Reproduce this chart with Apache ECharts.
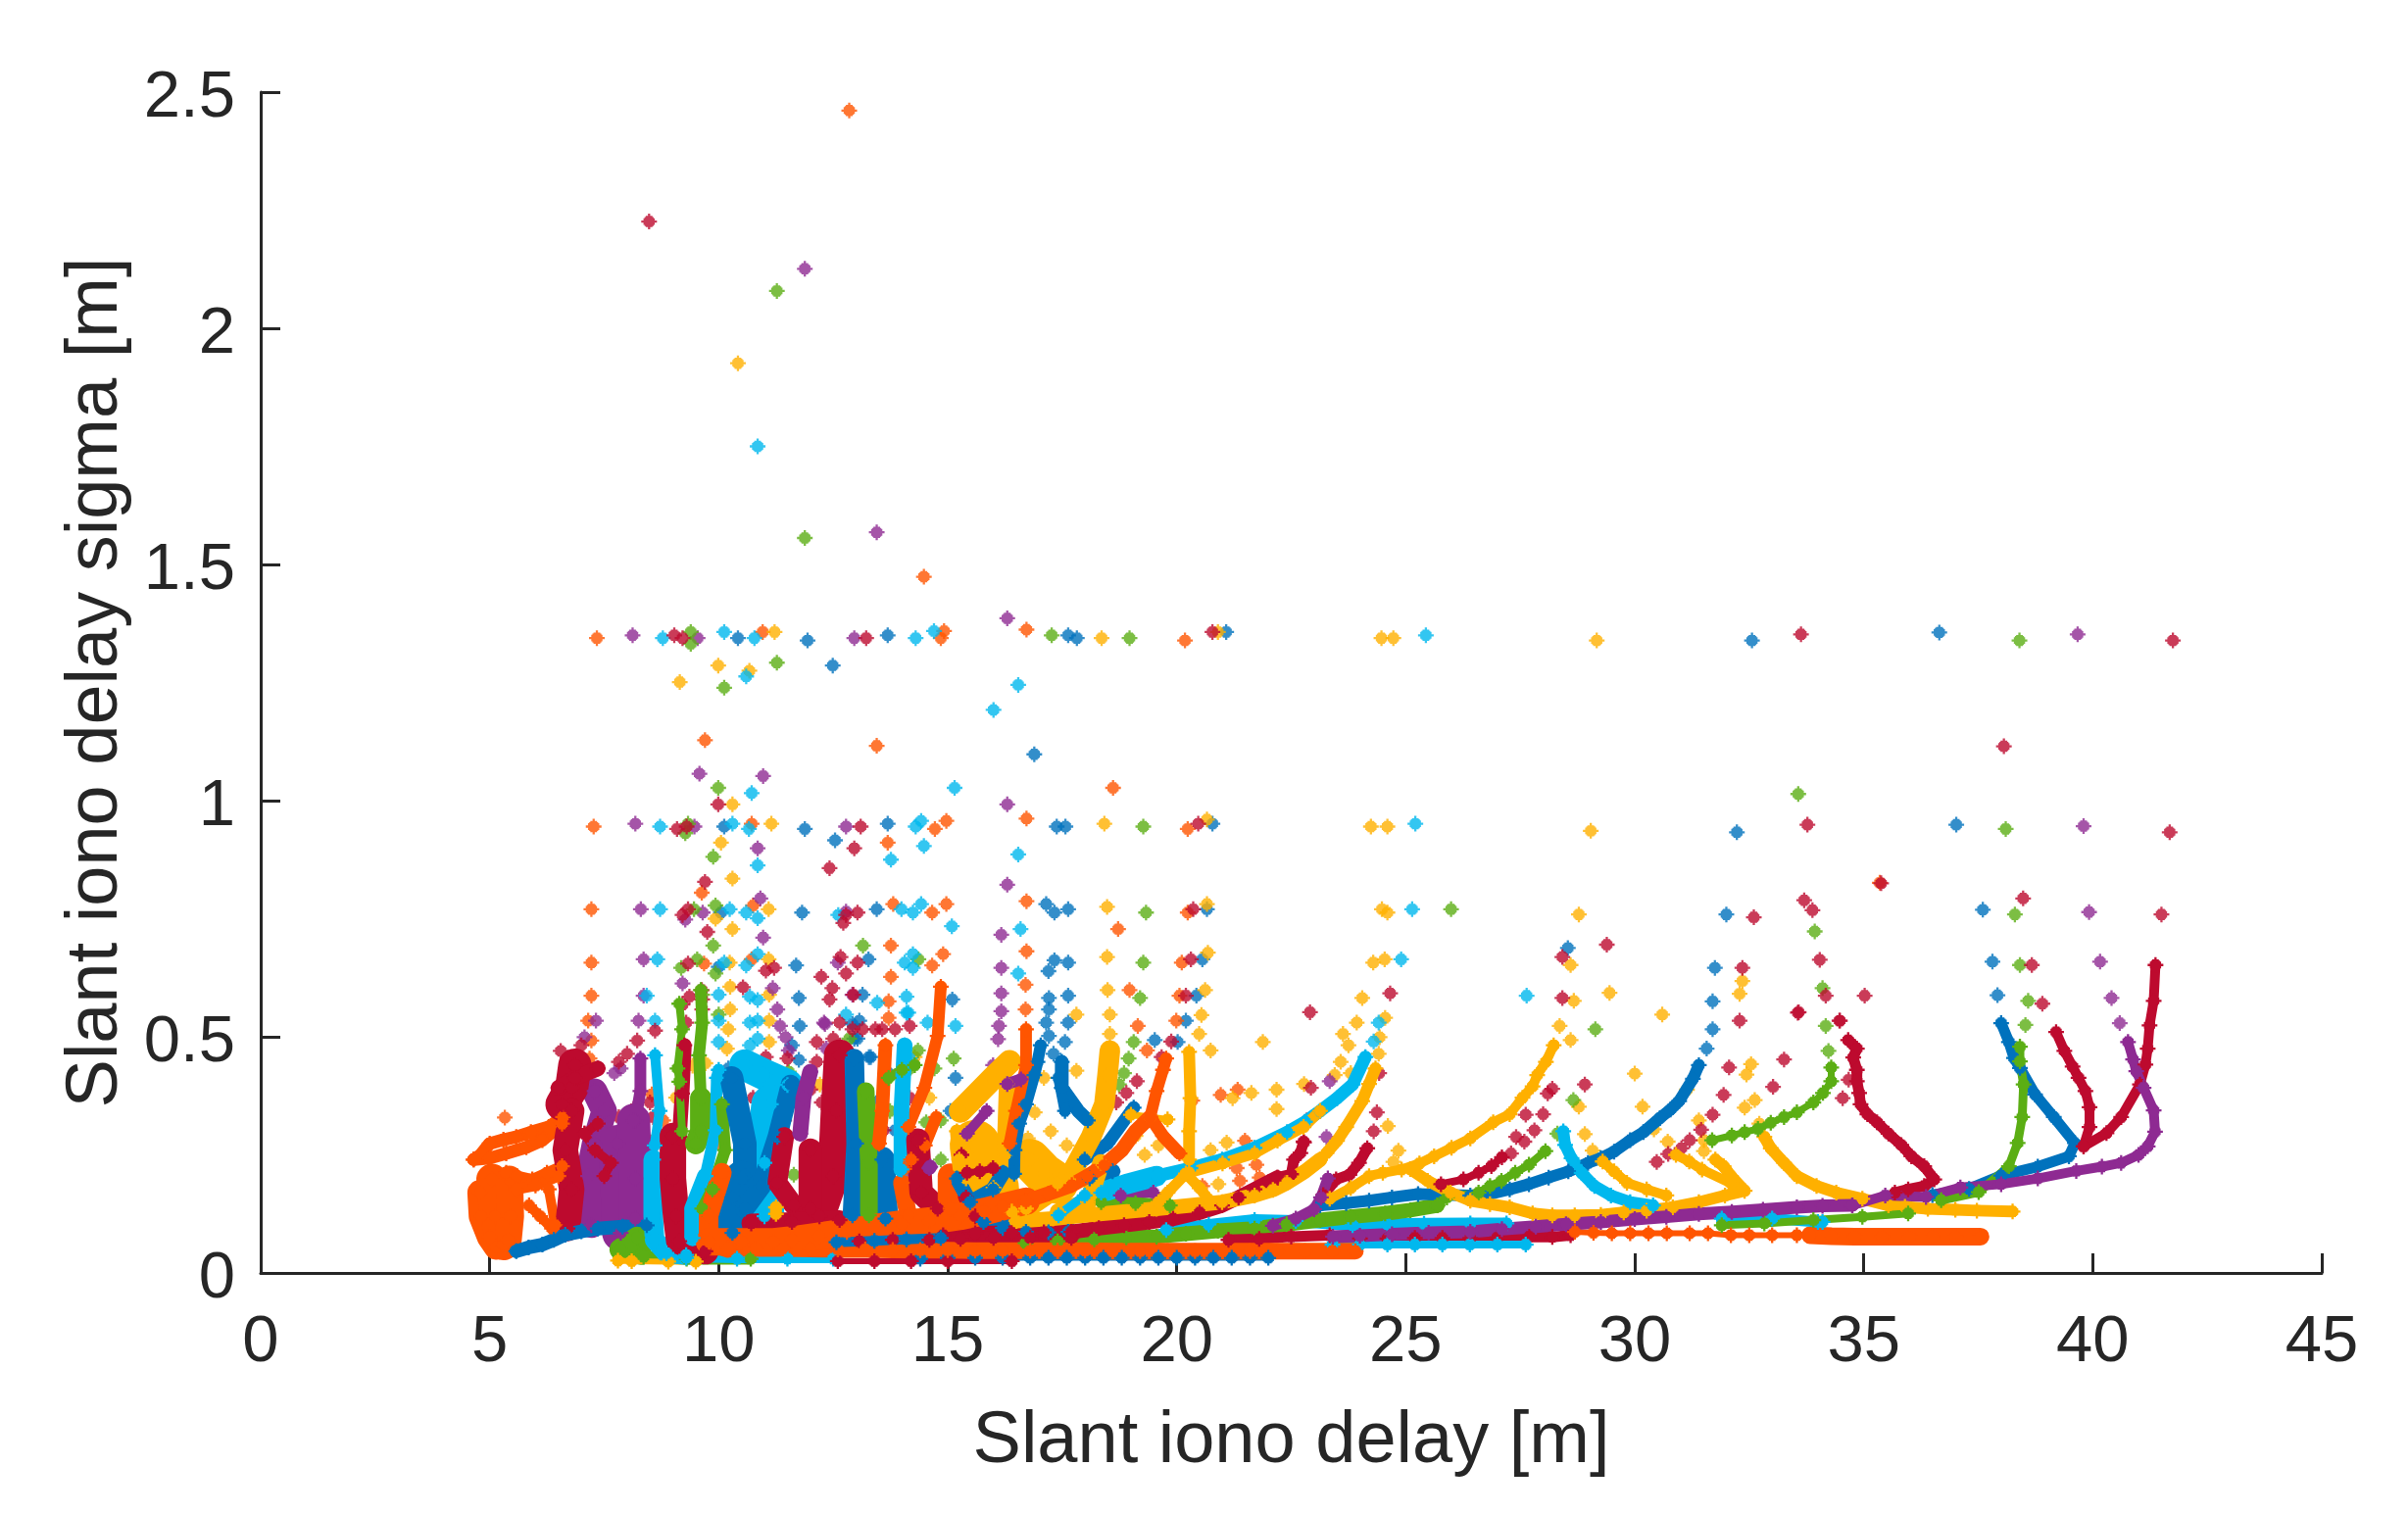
<!DOCTYPE html>
<html><head><meta charset="utf-8">
<style>html,body{margin:0;background:#fff}#c{width:2457px;height:1546px}</style>
<script src="https://cdn.jsdelivr.net/npm/echarts@6/dist/echarts.min.js"></script>
</head><body><div id="c"></div>
<script>
const xTicks=[0,5,10,15,20,25,30,35,40,45];
const yTicks=[0,0.5,1,1.5,2,2.5];
const blue='#0072BD',orange='#FF5500',yellow='#FFB000',purple='#8E2A92',green='#5BAE14',cyan='#00B8EE',red='#BD0A2E';

// isolated readings
const blueDots=[[10.42,1.344],[11.94,1.339],[13.69,1.35],[12.49,1.286],[16.89,1.098],[17.63,1.35],[17.82,1.344],[21.08,1.357],[32.56,1.339],[36.65,1.356],[10.12,.945],[11.88,.94],[13.69,.951],[12.54,.916],[17.38,.945],[17.57,.945],[20.78,.951],[32.23,.933],[37.02,.949],[10.05,.763],[11.82,.763],[13.45,.77],[17.15,.781],[17.33,.763],[17.63,.77],[20.66,.77],[28.54,.688],[32,.759],[37.6,.769],[10,.648],[11.69,.651],[13.27,.664],[17.33,.662],[17.2,.639],[17.63,.657],[20.56,.664],[31.75,.646],[37.81,.659],[37.92,.588],[31.7,.575],[31.7,.516],[31.57,.475],[11.75,.582],[11.77,.523],[13.14,.589],[12.96,.496],[13.32,.457],[17.21,.582],[17.21,.558],[17.15,.53],[17.21,.502],[17.63,.587],[17.63,.53],[17.56,.489],[17.31,.464],[19.52,.493],[20.02,.489],[20.43,.587],[20.2,.534],[13.71,.423],[13.49,.364],[11.6,.482],[11.75,.451],[11.57,.406],[11.71,.385],[12.92,.527],[13.07,.534],[13.03,.496],[13.28,.457],[15.1,.579],[15.06,.343],[15.17,.413],[13.85,.302],[10.21,.433],[10.28,.406]];
const orangeDots=[[12.85,2.461],[14.48,1.474],[7.34,1.344],[10.96,1.357],[14.92,1.359],[14.85,1.344],[16.72,1.362],[9.7,1.128],[13.45,1.116],[7.27,.945],[10.72,.951],[14.72,.94],[14.97,.957],[16.72,.962],[13.69,.911],[9.63,.805],[7.22,.77],[10.75,.778],[13.81,.781],[14.66,.763],[14.97,.781],[16.72,.787],[7.22,.657],[9.68,.655],[10.72,.664],[13.76,.693],[14.66,.651],[14.9,.675],[16.72,.681],[13.76,.627],[20.18,1.339],[18.61,1.027],[20.24,.94],[18.72,.728],[20.24,.763],[20.11,.657],[35.35,.826],[7.22,.587],[7.15,.534],[7.22,.492],[7.18,.454],[5.33,.329],[18.97,.599],[20.06,.587],[19.99,.534],[19.15,.523],[19.35,.471],[20.34,.365],[20.96,.377],[21.33,.388],[21.49,.28],[21.74,.229],[21.31,.222],[21.81,.202],[21.38,.195],[20.56,.184],[8.79,.323],[8.54,.378],[10,.276],[13.71,.575],[13.71,.54],[8.47,.281],[16.7,.61],[16.7,.558]];
const yellowDots=[[10.42,1.926],[11.22,1.357],[9.99,1.286],[10.67,1.275],[9.15,1.251],[10.3,.992],[11.15,.951],[10.05,.911],[10.3,.835],[9.93,.75],[11.09,.77],[10.3,.728],[10.24,.657],[11.09,.664],[18.36,1.344],[20.9,1.357],[24.47,1.344],[24.73,1.344],[29.17,1.339],[18.42,.951],[20.66,.96],[24.24,.945],[24.6,.945],[29.04,.936],[18.48,.775],[20.66,.781],[24.48,.77],[24.6,.763],[18.48,.669],[20.68,.678],[24.29,.657],[24.54,.664],[28.78,.759],[28.6,.652],[28.67,.576],[29.45,.593],[30.6,.547],[32.35,.618],[32.29,.591],[18.49,.599],[20.62,.599],[20.54,.546],[20.49,.506],[20.74,.471],[21.88,.489],[24.05,.582],[24.55,.54],[23.93,.53],[23.63,.506],[23.75,.482],[24.43,.499],[24.41,.464],[23.58,.447],[23.8,.423],[23.45,.419],[22.78,.4],[22.18,.388],[22.18,.347],[21.63,.381],[21.22,.37],[24.61,.311],[24.84,.259],[24.73,.235],[21.09,.276],[20.74,.26],[20.91,.188],[17.81,.547],[17.81,.428],[17.1,.413],[32.44,.42],[32.54,.442],[32.4,.35],[32.62,.366],[31.51,.281],[31.51,.258],[31.4,.323],[30.72,.278],[30.42,.304],[30,.422],[30.17,.352],[29.08,.259],[28.91,.294],[28.78,.352],[32.72,.316],[31.14,.388],[10.25,.606],[11.1,.589],[10.25,.558],[11.1,.534],[10.21,.516],[11.1,.489],[10.18,.475],[11.07,.433],[10.43,.43],[9.43,.439],[9.71,.444],[9.07,.371],[10.14,.399],[11.1,.378],[11.14,.33],[11.1,.281],[14.6,.371],[14.28,.457],[12.21,.399],[13.32,.35],[18.54,.547],[18.54,.506],[28.36,.523],[28.6,.493],[16.9,.34],[17.25,.3],[16.75,.285],[17.6,.27],[19.1,.29],[19.3,.25],[19.6,.27]];
const purpleDots=[[11.88,2.126],[13.45,1.568],[8.12,1.35],[9.54,1.344],[12.96,1.344],[16.3,1.386],[39.67,1.352],[9.58,1.057],[10.97,1.052],[16.3,.992],[8.18,.951],[9.47,.945],[12.78,.945],[39.8,.946],[10.85,.899],[16.3,.822],[10.91,.793],[8.3,.77],[9.27,.748],[9.65,.763],[12.78,.765],[39.92,.764],[16.17,.716],[10.97,.71],[8.36,.664],[12.6,.657],[16.17,.646],[40.16,.659],[40.41,.582],[40.59,.529],[7.32,.534],[8.25,.534],[8.36,.587],[7.07,.499],[7.72,.423],[7.86,.433],[11.28,.558],[11.34,.523],[11.46,.499],[11.53,.471],[11.18,.603],[12.3,.53],[12.35,.475],[12.32,.527],[12.92,.589],[14.21,.205],[16.17,.592],[16.17,.554],[16.12,.523],[16.1,.495],[15.99,.44],[23.34,.406],[23.27,.288],[9.21,.613]];
const greenDots=[[11.27,2.079],[11.88,1.556],[9.39,1.357],[9.39,1.332],[11.27,1.292],[10.12,1.239],[17.27,1.35],[18.97,1.344],[38.4,1.339],[9.99,1.027],[9.33,.951],[9.27,.931],[9.88,.881],[19.27,.945],[33.57,1.014],[38.1,.94],[9.93,.778],[9.46,.77],[9.88,.693],[13.15,.693],[19.33,.763],[25.99,.77],[38.3,.759],[33.93,.723],[9.53,.664],[9.18,.646],[9.93,.634],[14.36,.664],[19.27,.657],[34.1,.603],[34.17,.523],[34.23,.47],[38.59,.576],[38.41,.652],[38.53,.525],[19.2,.582],[19.06,.489],[18.95,.454],[18.85,.423],[18.74,.399],[29.14,.516],[28.66,.366],[9.64,.589],[10,.547],[12.85,.496],[11.53,.426],[14.35,.471],[14.71,.433],[15.13,.454],[14.14,.43],[11.64,.208],[13.74,.343],[14.53,.319],[14.85,.323],[14.85,.24],[28.31,.295]];
const cyanDots=[[10.85,1.75],[8.78,1.344],[10.12,1.357],[10.78,1.344],[14.3,1.344],[14.7,1.359],[25.44,1.35],[10.6,1.263],[16.54,1.245],[16,1.192],[10.72,1.016],[15.15,1.027],[8.72,.945],[10.3,.951],[10.66,.94],[14.3,.945],[14.42,.957],[25.21,.951],[14.48,.904],[16.54,.886],[10.85,.863],[13.76,.875],[8.72,.77],[10.24,.77],[10.6,.763],[10.85,.751],[12.61,.758],[13.99,.77],[14.24,.763],[14.42,.781],[25.14,.77],[15.09,.734],[16.59,.728],[8.66,.664],[10.12,.657],[10.6,.651],[10.85,.675],[14.06,.657],[14.24,.675],[14.24,.646],[16.54,.634],[24.9,.664],[27.64,.587],[14.14,.551],[8.61,.534],[8.43,.587],[10,.589],[10.85,.578],[10.68,.585],[10,.534],[10.68,.53],[10.85,.534],[10.85,.496],[10.68,.482],[10,.489],[14.1,.585],[13.46,.572],[14.1,.551],[14.06,.478],[14.56,.53],[15.17,.523],[12.78,.547],[14.17,.454],[14.03,.43],[24.41,.53],[24.3,.49]];
const redDots=[[8.48,2.226],[9.03,1.35],[9.21,1.344],[13.22,1.344],[20.78,1.357],[33.63,1.352],[41.75,1.339],[9.99,.992],[9.09,.94],[9.3,.945],[13.1,.945],[20.47,.951],[33.77,.949],[38.06,1.115],[41.68,.933],[12.96,.899],[12.42,.857],[9.7,.828],[9.75,.722],[9.21,.758],[9.33,.77],[12.78,.758],[12.72,.741],[13.03,.763],[20.36,.77],[32.6,.753],[33.7,.789],[33.88,.768],[35.38,.825],[38.48,.793],[41.5,.759],[9.33,.655],[11.21,.646],[11.03,.64],[12.66,.669],[13.03,.657],[12.24,.627],[12.78,.634],[20.31,.664],[29.39,.695],[28.42,.669],[28.42,.582],[32.35,.646],[34.04,.663],[34.17,.587],[35.02,.587],[33.56,.551],[34.47,.534],[32.29,.534],[38.67,.652],[38.9,.57],[9.21,.568],[9.64,.558],[9.29,.53],[9.64,.579],[9.36,.585],[9.63,.599],[12.48,.603],[12.42,.579],[12.94,.589],[10.53,.605],[13.14,.516],[13.57,.516],[13.85,.516],[14.17,.523],[12.64,.53],[12.14,.489],[11.03,.457],[10.75,.371],[11.39,.371],[11.43,.323],[12,.388],[12.25,.361],[6.55,.47],[8.61,.513],[8.22,.492],[8,.464],[7.82,.447],[7.82,.33],[8.14,.347],[8.5,.361],[14.17,.371],[20.2,.587],[19.88,.49],[19.67,.457],[19.13,.406],[18.9,.381],[18.68,.361],[22.91,.552],[24.66,.592],[24.42,.423],[22.93,.392],[22.84,.323],[24.37,.34],[24.3,.3],[22.78,.276],[34.67,.409],[34.54,.37],[33.26,.452],[33.02,.394],[32.06,.435],[31.94,.377],[31.7,.335],[31.45,.303],[31.2,.281],[31.02,.264],[30.73,.252],[30.48,.235],[34.48,.534],[33.58,.552],[28.91,.399],[28,.336],[27.62,.335],[27.81,.302],[27.41,.288],[27.59,.278],[27.3,.253],[28.2,.39],[28.1,.38],[12.5,.496],[11.5,.454],[12.14,.447],[12.46,.419],[12.92,.516],[13.42,.516],[14.35,.26],[13.6,.302],[7,.482],[7.36,.316],[7.07,.295],[7.65,.233],[7.5,.205],[7.79,.198],[7.93,.177],[8.07,.281],[7.79,.274],[8.5,.26],[8,.21],[8.57,.33]];

// left cluster
const orangeBlobA=[[4.79,.17],[4.82,.12],[5,.076],[5.15,.055]];
const orangeBlobB=[[5.05,.198],[5.12,.12],[5.3,.06]];
const orangeBlobC=[[5.43,.198],[5.45,.12],[5.4,.07]];
const orangeArmA=[[4.65,.24],[4.8,.25],[5,.274],[5.3,.282],[5.58,.288],[5.9,.298],[6.29,.309],[6.6,.33]];
const orangeArmB=[[4.65,.24],[5,.243],[5.36,.253],[5.8,.266],[6.15,.281],[6.58,.316]];
const orangeArmC=[[5.36,.212],[5.6,.205],[5.93,.198],[6.25,.212],[6.58,.226]];
const orangeArmD=[[5.58,.177],[6,.185],[6.5,.205]];
const orangeArmE=[[5.86,.143],[6.1,.12],[6.36,.094]];
const orangeArmF=[[6.29,.177],[6.43,.101]];
const purpleWallA=[[7.29,.385],[7.5,.343],[7.29,.274],[7.15,.205],[7.22,.101]];
const purpleWallB=[[7.79,.274],[7.86,.085]];
const purpleWallC=[[8.29,.454],[8.29,.385],[8.18,.323]];
const purpleWallD=[[8.14,.323],[8.18,.2],[8.18,.115]];
const redMassTop=[[6.86,.44],[6.79,.392],[6.58,.357]];
const redMassMid=[[6.79,.343],[6.65,.26],[6.79,.177],[6.7,.094]];
const redWallC=[[7.36,.433],[6.86,.413],[6.5,.392]];
const redWallE=[[7.36,.316],[7.07,.295],[7.3,.26],[7.65,.233],[7.5,.205]];
const blueArc=[[5.58,.046],[5.85,.054],[6.15,.06],[6.4,.07],[6.65,.081],[7,.088],[7.36,.094],[7.9,.098],[8.43,.101]];
const greenWedge=[[7.85,.05],[8.22,.075],[8.3,.04]];
const greenFootA=[[8.36,.034],[9.3,.03],[10.7,.03]];
const yellowFoot=[[7.8,.026],[8.1,.025],[8.9,.024],[9.5,.024]];
const cyanWallA=[[8.61,.461],[8.71,.343],[8.6,.27]];
const cyanWallAFoot=[[8.57,.24],[8.57,.12],[8.6,.07],[8.86,.042],[9.29,.038]];
const cyanFoot=[[9.29,.032],[10.4,.03],[11.5,.03],[12.5,.03]];
const redWallF=[[9.25,.482],[9.2,.38],[9.14,.288]];
const redWallG=[[9,.29],[9,.2],[9.07,.12],[9.14,.067],[9.71,.046]];
const greenWallA=[[9.61,.599],[9.64,.53],[9.57,.461],[9.61,.37]];
const greenWallTop=[[9.61,.37],[9.61,.3],[9.5,.274]];
const greenFringe=[[9.14,.57],[9.2,.516],[9.1,.433],[9.14,.405],[9.2,.3]];
const cyanWallB=[[10,.43],[9.96,.413],[9.93,.302],[9.71,.205]];
const cyanWallBFoot=[[9.71,.205],[9.43,.136],[9.43,.074]];
const greenWallB=[[10.07,.357],[10.14,.26],[9.86,.177],[9.64,.136]];
const cyanFanA=[[10.57,.44],[11,.42],[11.5,.398]];
const cyanFanB=[[11.14,.357],[11,.233],[11,.12]];
const blueForkA=[[10.28,.413],[10.57,.274],[10.57,.205]];
const blueForkFoot=[[10.5,.2],[10.3,.16],[10.3,.085]];
const blueForkB=[[11.57,.399],[11.28,.288],[10.93,.184],[10.57,.136]];
const yellowSpot=[[11.25,.139],[11.25,.125]];
const redTowerA=[[12.64,.461],[12.57,.343],[12.5,.205],[12.2,.12]];
const redTowerB=[[11.43,.288],[11.28,.191],[11.64,.143]];
const redTowerC=[[12,.26],[12,.136]];
const redBar=[[10.71,.105],[11.6,.108],[12.64,.112]];
const purpleFlag=[[12,.426],[11.85,.371],[11.78,.295]];
const blueRibA=[[12.96,.454],[13,.274],[12.92,.122]];
const blueRibB=[[13.57,.24],[13.64,.115]];
const greenRibA=[[13.21,.385],[13.28,.233],[13.28,.122]];
const greenRibB=[[13.71,.413],[14,.43],[14.28,.44]];
const orangeRibA=[[13.64,.482],[13.57,.343],[13.5,.274]];
const orangeRibB=[[14.85,.606],[14.78,.502],[14.49,.392],[14.14,.309],[14.05,.22]];
const orangeRibC=[[14,.191],[14.14,.122]];
const cyanRib=[[14.06,.482],[13.99,.343],[13.99,.219]];
const redRib=[[14.35,.281],[14.42,.17],[14.78,.136]];
const purpleSpot=[[14.6,.222],[14.62,.225]];
const orangeRibD=[[15.06,.205],[15.06,.136]];
const redRibB=[[15.3,.25],[15.4,.16],[15.6,.12]];
const orangeRibF=[[14.75,.33],[14.5,.27],[14.2,.24]];
// 15 - 20 m fans
const yellowFanA=[[15.28,.343],[15.99,.413],[16.35,.447]];
const yellowFanB=[[15.6,.27],[15.7,.2],[16,.18]];
const yellowFanC=[[16.3,.4],[16.25,.25],[16.4,.13]];
const yellowFanD=[[16.8,.24],[17.1,.21],[17.4,.19]];
const yellowHaze=[[15.2,.3],[15.25,.24],[15.4,.2]];
const blueRibC=[[17.03,.482],[16.96,.447],[16.89,.419],[16.71,.357],[16.56,.316],[16.46,.26],[16.45,.21]];
const blueRibD=[[17.49,.447],[17.49,.392],[17.85,.343],[18.06,.323]];
const blueRibE=[[17.42,.413],[17.56,.343]];
const blueCrescent=[[15.2,.2],[15.49,.15],[15.99,.177],[16.21,.212]];
const redHook=[[15.42,.212],[15.7,.215],[15.99,.222]];
const orangeRibE=[[16.71,.516],[16.71,.44],[16.49,.343],[16.35,.274]];
const purpleStreak=[[15.85,.343],[15.42,.295]];
const purpleDash=[[16.3,.4],[16.6,.41]];
const blueStreak=[[19.06,.35],[18.49,.274],[17.99,.24]];
const blueChip=[[18.1,.2],[18.6,.215]];
const yellowRise=[[18.54,.471],[18.49,.419],[18.42,.357],[18.13,.288],[17.63,.198],[16.71,.136]];
const yellowLower=[[18.35,.233],[18.06,.15],[17.42,.129]];
const cyanWedge=[[17.99,.164],[17.42,.122]];
const blueBase=[[15.78,.108],[16.2,.095],[16.71,.087],[17.2,.086],[17.63,.087]];
const purpleSliver=[[18.78,.164],[19.49,.17]];
const greenSliver=[[18.35,.15],[19.1,.148],[19.85,.143]];
const yellowPost=[[20.27,.468],[20.3,.37],[20.27,.3],[20.27,.24]];
const yellowChevA=[[20.2,.21],[19.8,.17],[19.6,.15]];
const yellowChevB=[[20.2,.21],[20.5,.18],[20.7,.155]];
const yellowWing=[[19,.335],[19.42,.33],[19.8,.325]];

// long bands along the floor
const orangeRiseWide=[[9.8,.066],[10.5,.066],[11.2,.066],[11.6,.07],[12.2,.078],[12.8,.087],[13.4,.096],[14,.104],[14.6,.11],[15.28,.12],[15.8,.13],[16.2,.14],[16.71,.152]];
const orangeRiseThin=[[16.71,.152],[17.2,.168],[17.71,.186],[18.05,.205],[18.42,.228],[18.8,.26],[19.1,.3],[19.42,.33]];
const orangeDrop=[[19.42,.33],[19.56,.385],[19.7,.43],[19.77,.454]];
const orangeArm=[[19.42,.33],[19.7,.29],[20.06,.253]];
const orangeCurl=[[10.07,.212],[9.78,.122],[9.78,.067],[10.21,.053]];
const orangeFloor=[[10.2,.053],[10.8,.052],[11.4,.052],[12,.051],[12.6,.05],[13.2,.05],[13.8,.049],[14.4,.048],[15,.048],[15.6,.047],[16.2,.047],[16.8,.047],[17.4,.047],[18,.047],[18.6,.046],[19.2,.046],[19.8,.046],[20.4,.046],[21,.046],[21.6,.046],[22.2,.046],[22.8,.046],[23.4,.046],[23.9,.046]];
const blueFloor=[[14.4,.03],[15,.032],[15.6,.032],[16.2,.032],[16.8,.032],[17.2,.032],[17.6,.032],[18,.032],[18.4,.032],[18.8,.032],[19.2,.032],[19.6,.032],[20,.032],[20.4,.032],[20.8,.032],[21.2,.032],[21.6,.032],[22,.032]];
const redFloor=[[12.6,.025],[13.4,.025],[14.2,.025],[15,.025],[16.4,.025]];
const blueStrip=[[12.57,.065],[13.4,.068],[14.1,.071],[14.85,.074]];
const redStrip=[[13.07,.067],[13.8,.07],[14.6,.07],[15.28,.072],[16,.074],[16.8,.074],[17.7,.074]];
const redRiseA=[[14.9,.08],[15.6,.084],[16.4,.085],[17.1,.086],[17.7,.087],[18.3,.095],[18.85,.101],[19.4,.108],[19.92,.115],[20.5,.128],[20.99,.143],[21.35,.16],[21.7,.177],[22,.192],[22.2,.202]];
const redPeak=[[22.2,.202],[22.5,.209],[22.56,.24],[22.7,.254],[22.77,.278]];
const redRiseB=[[23.2,.165],[23.48,.198],[23.77,.208],[23.98,.233],[24.16,.264]];
const redLateral=[[21.13,.07],[21.8,.072],[22.5,.077],[23.34,.08]];
const greenLong=[[16.7,.063],[17.4,.067],[18.2,.071],[18.9,.075],[19.56,.077],[20.2,.083],[20.9,.089],[21.7,.094],[22.4,.103],[23.13,.112],[23.8,.119],[24.55,.126],[25.1,.133],[25.69,.143]];
const greenTail=[[25.69,.143],[25.9,.16],[26.59,.17],[26.84,.184],[27.09,.195],[27.39,.212],[27.69,.229],[28.05,.258]];
const cyanLong=[[19.77,.091],[20.7,.102],[21.7,.112],[22.6,.11],[23.84,.101],[24.6,.103],[25.4,.104],[26.41,.105],[27.2,.105]];
const cyanLow=[[23.4,.06],[24,.06],[24.6,.06],[25.2,.06],[25.8,.06],[26.4,.06],[27,.06],[27.62,.06]];
const redLow=[[24,.073],[24.6,.073],[25.2,.074],[25.8,.074],[26.41,.074],[27,.075],[27.7,.077],[28.2,.076],[28.6,.08]];
const purpleLong=[[23.41,.077],[24,.079],[24.7,.082],[25.5,.085],[26.41,.087],[27.1,.093],[27.84,.098],[28.5,.103],[29.26,.108],[30,.114],[30.69,.119],[31.4,.125],[32.12,.129],[32.8,.134],[33.54,.139],[34.1,.142],[34.75,.143]];
const purpleCurl=[[22.1,.1],[22.6,.115],[23,.135],[23.15,.16],[23.3,.2]];
const orangeChain=[[28.69,.087],[29.1,.085],[29.5,.084],[29.9,.084],[30.3,.084],[30.7,.084],[31.2,.084],[31.6,.084],[32.1,.08],[32.5,.08],[33,.08],[33.54,.08]];
const orangeEnd=[[33.83,.08],[34.3,.078],[34.8,.077],[35.4,.077],[36,.077],[36.5,.077],[37,.077],[37.55,.077]];
const cyanBeamHead=[[18.35,.17],[18.9,.188],[19.56,.205]];
const cyanBeam=[[19.56,.205],[20.3,.222],[20.99,.24],[21.7,.265],[22.41,.298],[22.8,.32],[23.13,.343],[23.5,.37],[23.84,.399],[24.12,.457]];
const yellowBandA=[[16.5,.11],[17.3,.115],[18.2,.124],[19.56,.136],[20.99,.15],[21.7,.164],[22.1,.176],[22.41,.191],[22.8,.215],[23.13,.24]];
const yellowBandB=[[23.27,.254],[23.5,.28],[23.7,.309],[24.05,.364],[24.2,.4],[24.34,.433]];
const yellowBandC=[[20.27,.212],[21,.232],[21.7,.253],[22.2,.28],[22.77,.309],[23.13,.343]];
const blueMid=[[23.13,.143],[23.7,.148],[24.2,.153],[24.7,.16],[25.27,.167],[26.41,.164],[26.84,.167],[27.27,.177],[27.69,.188],[28.12,.202],[28.55,.215],[28.98,.233],[29.26,.243],[29.55,.257],[29.9,.281],[30.19,.298],[30.55,.328],[30.78,.346],[30.97,.364],[31.27,.411],[31.4,.44]];
const redEast=[[25.77,.188],[26.26,.198],[26.59,.212],[26.87,.226],[27.1,.245]];
const yellowEastRise=[[23.34,.157],[23.8,.18],[24.2,.205],[24.5,.212],[24.91,.219],[25.3,.232],[25.62,.247],[26,.265],[26.41,.285],[26.91,.319],[27.27,.336],[27.55,.371],[27.77,.395],[27.87,.419],[28.06,.447],[28.23,.482]];
const yellowSag=[[25.1,.22],[25.48,.195],[25.98,.17],[26.41,.153],[26.84,.146],[27.27,.139],[27.77,.126],[28.2,.122],[28.69,.122],[29.26,.123],[29.76,.128],[30.26,.132],[30.83,.139],[31.4,.15],[31.97,.164],[32.4,.174],[32.1,.205],[31.94,.226],[31.76,.24]];
const yellowSagB=[[32.1,.19],[31.47,.219],[31.19,.236],[30.9,.25]];
const yellowEast=[[32.83,.288],[32.97,.264],[33.26,.233],[33.54,.205],[33.97,.184],[34.4,.17],[34.97,.157],[35.54,.143],[35.9,.14],[36.4,.136],[37,.134],[37.47,.132],[38.25,.13]];
const yellowShort=[[29.3,.236],[29.55,.215],[29.83,.191],[30.26,.177],[30.69,.164]];
const cyanHook=[[28.44,.3],[28.48,.271],[28.62,.243],[28.84,.212],[29.12,.184],[29.48,.164],[29.9,.15],[30.4,.143]];
const greenEastUp=[[34.29,.435],[34.29,.406],[34.11,.381],[33.9,.361],[33.54,.34],[33.26,.33],[32.97,.318],[32.69,.305],[32.4,.298],[32.12,.291],[31.69,.281]];
const greenFloor=[[31.9,.101],[32.83,.105],[33.9,.112],[34.97,.119],[35.97,.126]];
const cyanUnder=[[31.9,.115],[33,.115],[34,.108],[34.1,.108]];
const redSwoop=[[34.66,.493],[34.85,.475],[34.77,.456],[34.85,.43],[34.85,.406],[34.9,.381],[34.93,.357],[35.08,.336],[35.29,.319],[35.54,.295],[35.82,.271],[36.04,.247],[36.32,.226],[36.54,.198],[36.32,.184],[35.97,.177],[35.68,.17]];
const purpleEast=[[34.75,.143],[35.47,.164],[36.36,.161],[37.11,.181],[38,.188],[38.8,.2],[39.64,.216],[40.2,.225],[40.62,.233],[41,.25],[41.2,.268],[41.36,.299],[41.33,.344],[41.11,.392],[40.95,.427],[40.88,.452],[40.77,.489]];
const redNorth=[[39.8,.268],[39.93,.309],[39.93,.351],[39.84,.385],[39.69,.413],[39.56,.437],[39.38,.47],[39.2,.51]];
const redNorthB=[[39.8,.268],[40.3,.296],[40.62,.33],[41.03,.399],[41.15,.441],[41.2,.475],[41.24,.524],[41.33,.576],[41.37,.652]];
const blueNorth=[[36.5,.165],[37.3,.178],[38,.206],[38.8,.225],[39.48,.247],[39.61,.275],[39.15,.33],[38.74,.378],[38.41,.434],[38.28,.455],[38.17,.489],[38,.529]];
const greenNorth=[[36.69,.154],[37.51,.171],[38.17,.226],[38.36,.275],[38.46,.33],[38.49,.399],[38.41,.448],[38.41,.479]];

const dots=[[blueDots,blue],[orangeDots,orange],[yellowDots,yellow],[purpleDots,purple],[greenDots,green],[cyanDots,cyan],[redDots,red]];
// [readings, colour, band width in px] in drawing order
const layers=[
[orangeBlobA,orange,26],[orangeBlobB,orange,32],[orangeBlobC,orange,28],[orangeArmA,orange,13],[orangeArmB,orange,13],[orangeArmC,orange,11],[orangeArmD,orange,11],[orangeArmE,orange,10],[orangeArmF,orange,10],
[purpleWallA,purple,26],[purpleWallB,purple,38],[purpleWallC,purple,12],[purpleWallD,purple,34],
[redMassTop,red,34],[redMassMid,red,26],[redWallC,red,16],[redWallE,red,9],
[blueArc,blue,14],[greenWedge,green,22],[greenFootA,green,12],[yellowFoot,yellow,6],
[cyanWallA,cyan,10],[cyanWallAFoot,cyan,20],[cyanFoot,cyan,9],[redWallF,red,15],[redWallG,red,27],[greenWallA,green,12],[greenWallTop,green,22],[greenFringe,green,8],
[cyanWallB,cyan,12],[cyanWallBFoot,cyan,17],[greenWallB,green,12],[cyanFanA,cyan,32],[cyanFanB,cyan,40],[yellowSpot,yellow,12],[blueForkA,blue,24],[blueForkFoot,blue,36],[blueForkB,blue,20],
[redTowerA,red,32],[redTowerB,red,20],[redTowerC,red,24],[redBar,red,20],[purpleFlag,purple,16],
[blueRibA,blue,20],[blueRibB,blue,26],[greenRibA,green,18],[greenRibB,green,10],[orangeRibA,orange,14],[orangeRibB,orange,12],[orangeRibF,orange,12],[orangeRibC,orange,18],[cyanRib,cyan,16],[redRib,red,24],[purpleSpot,purple,14],[orangeRibD,orange,26],[redRibB,red,16],
[yellowHaze,yellow,14],[yellowFanA,yellow,24],[yellowFanB,yellow,52],[yellowFanC,yellow,17],[yellowFanD,yellow,42],[blueRibC,blue,12],[blueRibD,blue,14],[blueRibE,blue,11],[blueCrescent,blue,15],[redHook,red,7],[orangeRibE,orange,12],[purpleStreak,purple,10],[purpleDash,purple,12],[blueStreak,blue,13],[blueChip,blue,16],
[blueFloor,blue,6],[redFloor,red,6],[redLow,red,11],[cyanLow,cyan,8],[cyanLong,cyan,12],[greenLong,green,15],[blueBase,blue,20],[blueMid,blue,12],
[redRiseA,red,15],[redPeak,red,11],[redRiseB,red,11],[redLateral,red,11],[redStrip,red,14],[greenTail,green,8],
[purpleSliver,purple,10],[greenSliver,green,12],[cyanBeamHead,cyan,21],[cyanBeam,cyan,13],[yellowBandA,yellow,15],[yellowBandB,yellow,12],[yellowBandC,yellow,11],[yellowPost,yellow,12],[yellowChevA,yellow,11],[yellowChevB,yellow,11],[yellowWing,yellow,7],
[yellowRise,yellow,21],[yellowLower,yellow,18],[cyanWedge,cyan,9],
[orangeCurl,orange,20],[orangeFloor,orange,17],[orangeRiseWide,orange,28],[orangeRiseThin,orange,15],[orangeDrop,orange,12],[orangeArm,orange,13],[blueStrip,blue,10],
[redEast,red,8],[yellowEastRise,yellow,10],[yellowSag,yellow,12],[yellowSagB,yellow,10],[yellowEast,yellow,12],[yellowShort,yellow,10],[cyanHook,cyan,12],[orangeChain,orange,6],[orangeEnd,orange,18],
[greenEastUp,green,7],[cyanUnder,cyan,11],[greenFloor,green,8],[purpleLong,purple,13],[purpleCurl,purple,11],[redSwoop,red,11],[blueNorth,blue,11],[redNorth,red,10],[redNorthB,red,10],[greenNorth,green,9],[purpleEast,purple,10]
];
const mark='path://M6,0H8V2H10V3H11V4H12V6H14V8H12V10H11V11H10V12H8V14H6V12H4V11H3V10H2V8H0V6H2V4H3V3H4V2H6Z';
const series=[];
layers.forEach(([d,c,w])=>series.push({type:'line',data:d,symbol:mark,symbolSize:16,showAllSymbol:true,silent:true,animation:false,
 itemStyle:{color:c},lineStyle:{color:c,width:w,cap:'round',join:'round'}}));
dots.forEach(([d,c])=>series.push({type:'scatter',data:d,symbol:mark,symbolSize:16,silent:true,animation:false,itemStyle:{color:c}}));
const ink='#262626';
const axisCommon={type:'value',splitLine:{show:false},axisLine:{show:true,onZero:false,lineStyle:{color:ink,width:3}},
 axisTick:{show:true,inside:true,length:20,lineStyle:{color:ink,width:3}},
 nameLocation:'middle',nameTextStyle:{fontFamily:'Liberation Sans',fontSize:74,color:ink}};
const chart=echarts.init(document.getElementById('c'),null,{renderer:'canvas'});
chart.setOption({animation:false,backgroundColor:'#fff',
 grid:{left:266,top:94,width:2103,height:1205,containLabel:false},
 xAxis:{...axisCommon,min:xTicks[0],max:xTicks[xTicks.length-1],interval:xTicks[1]-xTicks[0],name:'Slant iono delay [m]',nameGap:136,
  axisLabel:{fontFamily:'Liberation Sans',fontSize:67,color:ink,margin:38}},
 yAxis:{...axisCommon,min:yTicks[0],max:yTicks[yTicks.length-1],interval:yTicks[1]-yTicks[0],name:'Slant iono delay sigma [m]',nameGap:126,
  axisLabel:{margin:26,formatter:'{t|{value}}',rich:{t:{fontFamily:'Liberation Sans',fontSize:67,color:ink,lineHeight:67,padding:[14,0,0,0]}}}},
 series});
</script></body></html>
